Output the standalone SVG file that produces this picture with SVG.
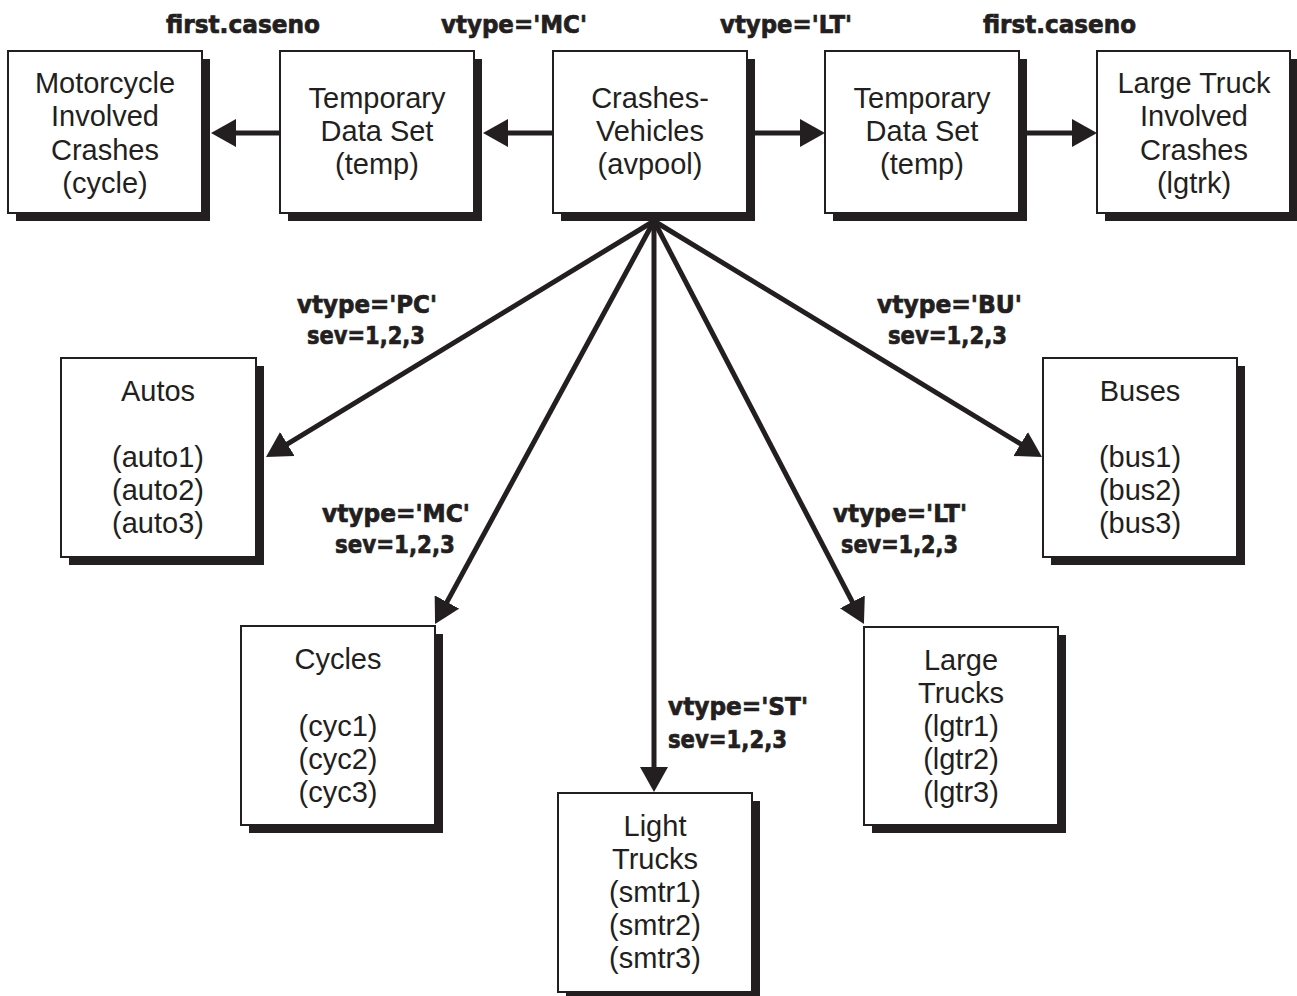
<svg xmlns="http://www.w3.org/2000/svg" width="1297" height="996" viewBox="0 0 1297 996">
<defs>
<style>
.shadow{fill:#231f20}
.box{fill:#fff;stroke:#231f20;stroke-width:2}
.nt{font-family:"Liberation Sans",Arial,sans-serif;font-size:29px;fill:#231f20;text-anchor:middle}
.lb{font-family:"DejaVu Sans","Liberation Sans",sans-serif;font-weight:bold;font-size:24px;fill:#231f20;stroke:#231f20;stroke-width:0.7;text-anchor:middle}
.lbs{font-family:"DejaVu Sans","Liberation Sans",sans-serif;font-weight:bold;font-size:24px;fill:#231f20;stroke:#231f20;stroke-width:0.7;text-anchor:start}
.cn{stroke:#231f20;stroke-width:5;fill:none;marker-end:url(#ah)}
</style>
<marker id="ah" markerUnits="userSpaceOnUse" markerWidth="25" markerHeight="28" refX="5" refY="14" orient="auto" viewBox="0 0 25 28">
<path d="M0,0 L25,14 L0,28 z" fill="#231f20"/>
</marker>
</defs>
<rect width="1297" height="996" fill="#fff"/>

<g id="n_cycle">
<rect class="shadow" x="16" y="59" width="194" height="162"/>
<rect class="box" x="8" y="51" width="194" height="162"/>
<text class="nt" x="105" y="93">Motorcycle</text>
<text class="nt" x="105" y="126">Involved</text>
<text class="nt" x="105" y="160">Crashes</text>
<text class="nt" x="105" y="193">(cycle)</text>
</g>
<g id="n_temp1">
<rect class="shadow" x="288" y="59" width="194" height="162"/>
<rect class="box" x="280" y="51" width="194" height="162"/>
<text class="nt" x="377" y="108">Temporary</text>
<text class="nt" x="377" y="141">Data Set</text>
<text class="nt" x="377" y="174">(temp)</text>
</g>
<g id="n_avpool">
<rect class="shadow" x="561" y="59" width="194" height="162"/>
<rect class="box" x="553" y="51" width="194" height="162"/>
<text class="nt" x="650" y="108">Crashes-</text>
<text class="nt" x="650" y="141">Vehicles</text>
<text class="nt" x="650" y="174">(avpool)</text>
</g>
<g id="n_temp2">
<rect class="shadow" x="833" y="59" width="194" height="162"/>
<rect class="box" x="825" y="51" width="194" height="162"/>
<text class="nt" x="922" y="108">Temporary</text>
<text class="nt" x="922" y="141">Data Set</text>
<text class="nt" x="922" y="174">(temp)</text>
</g>
<g id="n_lgtrk">
<rect class="shadow" x="1105" y="59" width="194" height="162"/>
<rect class="box" x="1097" y="51" width="193" height="162"/>
<text class="nt" x="1194" y="93">Large Truck</text>
<text class="nt" x="1194" y="126">Involved</text>
<text class="nt" x="1194" y="160">Crashes</text>
<text class="nt" x="1194" y="193">(lgtrk)</text>
</g>
<g id="n_autos">
<rect class="shadow" x="69" y="366" width="195" height="199"/>
<rect class="box" x="61" y="358" width="195" height="199"/>
<text class="nt" x="158" y="401">Autos</text>
<text class="nt" x="158" y="467">(auto1)</text>
<text class="nt" x="158" y="500">(auto2)</text>
<text class="nt" x="158" y="533">(auto3)</text>
</g>
<g id="n_buses">
<rect class="shadow" x="1051" y="366" width="194" height="199"/>
<rect class="box" x="1043" y="358" width="194" height="199"/>
<text class="nt" x="1140" y="401">Buses</text>
<text class="nt" x="1140" y="467">(bus1)</text>
<text class="nt" x="1140" y="500">(bus2)</text>
<text class="nt" x="1140" y="533">(bus3)</text>
</g>
<g id="n_cycles">
<rect class="shadow" x="249" y="634" width="194" height="199"/>
<rect class="box" x="241" y="626" width="194" height="199"/>
<text class="nt" x="338" y="669">Cycles</text>
<text class="nt" x="338" y="736">(cyc1)</text>
<text class="nt" x="338" y="769">(cyc2)</text>
<text class="nt" x="338" y="802">(cyc3)</text>
</g>
<g id="n_lgtr">
<rect class="shadow" x="872" y="635" width="194" height="198"/>
<rect class="box" x="864" y="627" width="194" height="198"/>
<text class="nt" x="961" y="670">Large</text>
<text class="nt" x="961" y="703">Trucks</text>
<text class="nt" x="961" y="736">(lgtr1)</text>
<text class="nt" x="961" y="769">(lgtr2)</text>
<text class="nt" x="961" y="802">(lgtr3)</text>
</g>
<g id="n_smtr">
<rect class="shadow" x="566" y="801" width="194" height="199"/>
<rect class="box" x="558" y="793" width="194" height="199"/>
<text class="nt" x="655" y="836">Light</text>
<text class="nt" x="655" y="869">Trucks</text>
<text class="nt" x="655" y="902">(smtr1)</text>
<text class="nt" x="655" y="935">(smtr2)</text>
<text class="nt" x="655" y="968">(smtr3)</text>
</g>

<g id="connectors">
<line class="cn" x1="280" y1="133" x2="231" y2="133"/>
<line class="cn" x1="553" y1="133" x2="503" y2="133"/>
<line class="cn" x1="755" y1="133" x2="805" y2="133"/>
<line class="cn" x1="1027" y1="133" x2="1077" y2="133"/>
<line class="cn" x1="654" y1="221" x2="283.1" y2="446.6"/>
<line class="cn" x1="654" y1="221" x2="444.6" y2="606.4"/>
<line class="cn" x1="654" y1="221" x2="654" y2="772"/>
<line class="cn" x1="654" y1="221" x2="854.7" y2="606.3"/>
<line class="cn" x1="654" y1="221" x2="1024.9" y2="446.6"/>
</g>

<g id="labels">
<text class="lb" x="243" y="33" textLength="154" lengthAdjust="spacingAndGlyphs">first.caseno</text>
<text class="lb" x="514" y="33" textLength="146" lengthAdjust="spacingAndGlyphs">vtype='MC'</text>
<text class="lb" x="786" y="33" textLength="132" lengthAdjust="spacingAndGlyphs">vtype='LT'</text>
<text class="lb" x="1059.5" y="33" textLength="153" lengthAdjust="spacingAndGlyphs">first.caseno</text>
<text class="lb" x="367" y="313" textLength="140" lengthAdjust="spacingAndGlyphs">vtype='PC'</text>
<text class="lb" x="366" y="344" textLength="118" lengthAdjust="spacingAndGlyphs">sev=1,2,3</text>
<text class="lb" x="396" y="522" textLength="148" lengthAdjust="spacingAndGlyphs">vtype='MC'</text>
<text class="lb" x="395" y="553" textLength="120" lengthAdjust="spacingAndGlyphs">sev=1,2,3</text>
<text class="lb" x="949.5" y="313" textLength="145" lengthAdjust="spacingAndGlyphs">vtype='BU'</text>
<text class="lb" x="947.5" y="344" textLength="119" lengthAdjust="spacingAndGlyphs">sev=1,2,3</text>
<text class="lb" x="900" y="522" textLength="134" lengthAdjust="spacingAndGlyphs">vtype='LT'</text>
<text class="lb" x="899.5" y="553" textLength="117" lengthAdjust="spacingAndGlyphs">sev=1,2,3</text>
<text class="lbs" x="668" y="715" textLength="140" lengthAdjust="spacingAndGlyphs">vtype='ST'</text>
<text class="lbs" x="668" y="748" textLength="119" lengthAdjust="spacingAndGlyphs">sev=1,2,3</text>
</g>
</svg>
